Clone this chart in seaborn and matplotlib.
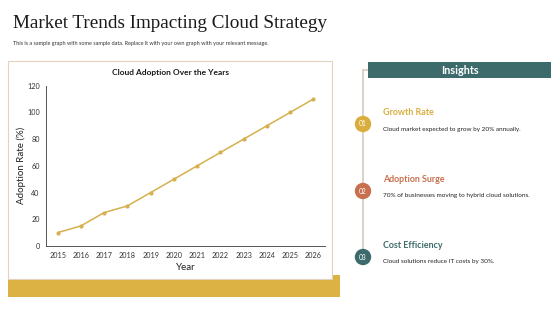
import matplotlib
matplotlib.use("Agg")
import matplotlib.pyplot as plt
from matplotlib.patches import Rectangle, Ellipse
import pandas as pd
import seaborn as sns

# data
years = ["2015", "2016", "2017", "2018", "2019", "2020", "2021", "2022", "2023", "2024", "2025", "2026"]
adoption = [10, 15, 25, 30, 40, 50, 60, 70, 80, 90, 100, 110]

insight_titles = ["Growth Rate", "Adoption Surge", "Cost Efficiency"]
insight_texts = ["Cloud market expected to grow by 20% annually.",
                 "70% of businesses moving to hybrid cloud solutions.",
                 "Cloud solutions reduce IT costs by 30%."]
insight_nums = ["01", "02", "03"]
insight_colors = ["#d9ae3e", "#c8704d", "#3d6b6b"]

W, H = 560, 315
sns.set_theme(style="white")
plt.rcParams["font.family"] = ["Lato", "DejaVu Sans"]

fig = plt.figure(figsize=(W / 100, H / 100), dpi=100)
fig.patch.set_facecolor("white")


def fx(x):
    return x / W


def fy(y):
    return 1 - y / H


# header
fig.text(fx(13), fy(23), "Market Trends Impacting Cloud Strategy", family="Liberation Serif",
         fontsize=13.8, color="#1a1a1a", va="center", ha="left")
fig.text(fx(13), fy(43), "This is a sample graph with some sample data. Replace it with your own graph with your relevant message.",
         fontsize=3.95, color="#333333", va="center", ha="left")

# golden bar and white panel
fig.patches.append(Rectangle((fx(8), fy(297)), fx(340 - 8), (297 - 275) / H, transform=fig.transFigure,
                             facecolor="#dcb245", edgecolor="none", zorder=0))
fig.patches.append(Rectangle((fx(8), fy(279)), fx(332 - 8), (279 - 61) / H, transform=fig.transFigure,
                             facecolor="white", edgecolor="#e3d2c2", linewidth=0.8, zorder=1))

# chart
ax = fig.add_axes([fx(46), fy(246), fx(325 - 46), (246 - 85.7) / H], zorder=2)
df = pd.DataFrame({"Year": years, "Adoption": adoption})
sns.lineplot(data=df, x="Year", y="Adoption", ax=ax, color="#d6b04e", linewidth=1.1,
             marker="o", markersize=3, markeredgewidth=0)
ax.set_xlim(-0.5, len(years) - 0.5)
ax.set_ylim(0, 120)
ax.set_yticks(range(0, 121, 20))
ax.set_xticks(range(len(years)))
ax.set_xticklabels(years)
ax.set_xticks([i - 0.5 for i in range(len(years) + 1)], minor=True)
ax.tick_params(axis="x", which="major", length=0, labelsize=5.2, colors="#333333", pad=4)
ax.tick_params(axis="x", which="minor", length=2.5, width=0.6, color="#555555")
ax.tick_params(axis="y", which="major", length=2.5, width=0.6, color="#555555", labelsize=5.2,
               labelcolor="#333333", pad=2)
for s in ["top", "right"]:
    ax.spines[s].set_visible(False)
for s in ["left", "bottom"]:
    ax.spines[s].set_color("#555555")
    ax.spines[s].set_linewidth(0.7)
ax.set_xlabel("Year", fontsize=7, color="#222222", labelpad=3)
ax.set_ylabel("Adoption Rate (%)", fontsize=7, color="#222222", labelpad=1)
ax.patch.set_alpha(0)
fig.text(fx(170), fy(72), "Cloud Adoption Over the Years", fontsize=6.0, fontweight="bold",
         color="#1a1a1a", ha="center", va="center", zorder=3)

# insights panel
fig.add_artist(plt.Line2D([fx(363), fx(363)], [fy(70), fy(257)], transform=fig.transFigure,
                          color="#d8cfc6", linewidth=1.3, zorder=1))
fig.add_artist(plt.Line2D([fx(363), fx(368)], [fy(70), fy(70)], transform=fig.transFigure,
                          color="#d8cfc6", linewidth=1.3, zorder=1))
fig.patches.append(Rectangle((fx(368), fy(78)), fx(551 - 368), (78 - 62) / H, transform=fig.transFigure,
                             facecolor="#3d6b6b", edgecolor="none", zorder=2))
fig.text(fx(460), fy(70.5), "Insights", fontsize=7.8, fontweight="bold", color="white",
         ha="center", va="center", zorder=3)

ys = [124, 191, 257]
for num, title, text, c, y in zip(insight_nums, insight_titles, insight_texts, insight_colors, ys):
    fig.patches.append(Ellipse((fx(363), fy(y)), 16.4 / W, 16.4 / H, transform=fig.transFigure,
                               facecolor=c, edgecolor="none", zorder=2))
    fig.text(fx(363), fy(y), num, fontsize=4.8, color="white", ha="center", va="center", zorder=3)
    fig.text(fx(383), fy(y - 12), title, fontsize=6.4, fontweight="bold", color=c,
             ha="left", va="center", zorder=3)
    fig.text(fx(383), fy(y + 5), text, fontsize=4.6, color="#222222", ha="left", va="center", zorder=3)

fig.savefig("out.png", dpi=100)
